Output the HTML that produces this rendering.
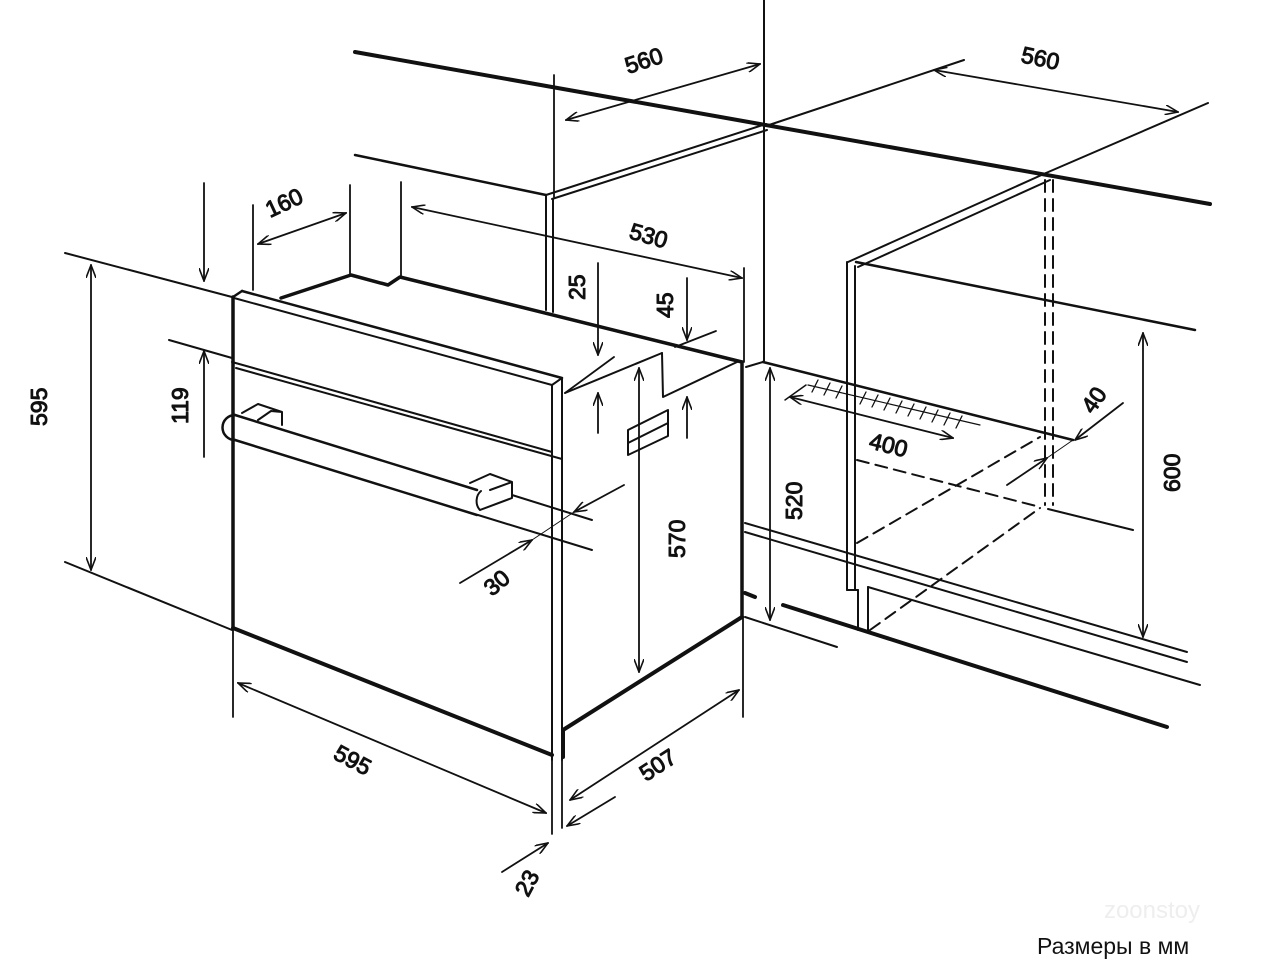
<!DOCTYPE html>
<html><head><meta charset="utf-8"><style>
html,body{margin:0;padding:0;background:#fff;}
svg{display:block;}
text{font-family:"Liberation Sans",sans-serif;font-size:23px;fill:#111;}
</style></head><body>
<svg width="1280" height="960" viewBox="0 0 1280 960" xmlns="http://www.w3.org/2000/svg">
<defs>
<marker id="a" viewBox="0 0 14 10" refX="13" refY="5" markerWidth="14" markerHeight="10" markerUnits="userSpaceOnUse" orient="auto-start-reverse">
<path d="M0,0 L13,5 L0,10" fill="none" stroke="#111" stroke-width="1.6"/>
</marker>
</defs>
<g stroke="#111" fill="none" stroke-linecap="round" stroke-linejoin="round">
<line x1="355" y1="52" x2="1210" y2="204" stroke-width="4"/>
<line x1="764" y1="0" x2="764" y2="362" stroke-width="2"/>
<line x1="355" y1="155" x2="546" y2="195" stroke-width="2.5"/>
<line x1="546" y1="195" x2="766" y2="124" stroke-width="2"/>
<line x1="552" y1="199" x2="767" y2="130" stroke-width="2"/>
<line x1="546" y1="195" x2="546" y2="310" stroke-width="2"/>
<line x1="553" y1="199" x2="553" y2="312" stroke-width="2"/>
<line x1="554" y1="75" x2="554" y2="197" stroke-width="1.8"/>
<line x1="566" y1="120" x2="760" y2="64" stroke-width="1.8" marker-start="url(#a)" marker-end="url(#a)"/>
<text transform="translate(628,74) rotate(-18)">560</text>
<line x1="766" y1="126" x2="964" y2="60" stroke-width="2"/>
<line x1="1046" y1="173" x2="1208" y2="103" stroke-width="2"/>
<line x1="934" y1="70" x2="1178" y2="112" stroke-width="1.8" marker-start="url(#a)" marker-end="url(#a)"/>
<text transform="translate(1020,62) rotate(12)">560</text>
<line x1="1046" y1="173" x2="848" y2="262" stroke-width="2"/>
<line x1="1050" y1="180" x2="858" y2="267" stroke-width="2"/>
<line x1="856" y1="262" x2="1195" y2="330" stroke-width="2.5"/>
<line x1="847" y1="262" x2="847" y2="590" stroke-width="2"/>
<line x1="855" y1="266" x2="855" y2="590" stroke-width="2"/>
<line x1="847" y1="590" x2="858" y2="590" stroke-width="2"/>
<line x1="858" y1="590" x2="858" y2="630" stroke-width="2"/>
<line x1="868" y1="587" x2="868" y2="632" stroke-width="2"/>
<line x1="1045" y1="180" x2="1045" y2="505" stroke-width="2" stroke-dasharray="12,7"/>
<line x1="1053" y1="180" x2="1053" y2="505" stroke-width="2" stroke-dasharray="12,7"/>
<line x1="1143" y1="333" x2="1143" y2="637" stroke-width="1.8" marker-start="url(#a)" marker-end="url(#a)"/>
<text transform="translate(1180,492) rotate(-90)">600</text>
<line x1="746" y1="367" x2="763" y2="362" stroke-width="2"/>
<line x1="763" y1="362" x2="1073" y2="440" stroke-width="2.5"/>
<path d="M808,385 L980,425" stroke-width="1.2"/>
<g stroke-width="1.3">
<line x1="818" y1="380" x2="812" y2="392"/><line x1="830" y1="383" x2="824" y2="395"/>
<line x1="842" y1="386" x2="836" y2="398"/><line x1="866" y1="392" x2="860" y2="404"/>
<line x1="878" y1="395" x2="872" y2="407"/><line x1="890" y1="398" x2="884" y2="410"/>
<line x1="902" y1="401" x2="896" y2="413"/><line x1="914" y1="404" x2="908" y2="416"/>
<line x1="926" y1="407" x2="920" y2="419"/><line x1="938" y1="410" x2="932" y2="422"/>
<line x1="950" y1="413" x2="944" y2="425"/><line x1="962" y1="416" x2="956" y2="428"/>
</g>
<line x1="785" y1="400" x2="806" y2="385" stroke-width="1.5"/>
<line x1="790" y1="397" x2="953" y2="438" stroke-width="1.8" marker-start="url(#a)" marker-end="url(#a)"/>
<text transform="translate(868,448) rotate(14)">400</text>
<line x1="1123" y1="403" x2="1075" y2="440" stroke-width="1.8" marker-end="url(#a)"/>
<line x1="1007" y1="485" x2="1047" y2="458" stroke-width="1.8" marker-end="url(#a)"/>
<line x1="1073" y1="440" x2="1047" y2="458" stroke-width="1"/>
<text transform="translate(1093,415) rotate(-55)">40</text>
<line x1="857" y1="460" x2="1040" y2="507" stroke-width="2" stroke-dasharray="12,7"/>
<line x1="1048" y1="509" x2="1133" y2="530" stroke-width="2"/>
<line x1="857" y1="543" x2="1040" y2="437" stroke-width="2" stroke-dasharray="12,7"/>
<line x1="870" y1="630" x2="1040" y2="508" stroke-width="2" stroke-dasharray="12,7"/>
<line x1="770" y1="368" x2="770" y2="620" stroke-width="1.8" marker-start="url(#a)" marker-end="url(#a)"/>
<text transform="translate(802,520) rotate(-90)">520</text>
<line x1="745" y1="523" x2="1187" y2="652" stroke-width="2"/>
<line x1="745" y1="532" x2="1187" y2="662" stroke-width="2"/>
<line x1="868" y1="587" x2="1200" y2="685" stroke-width="2"/>
<line x1="783" y1="605" x2="1167" y2="727" stroke-width="4"/>
<line x1="745" y1="593" x2="755" y2="597" stroke-width="4"/>
<line x1="745" y1="617" x2="837" y2="647" stroke-width="2"/>
<line x1="233" y1="297" x2="233" y2="628" stroke-width="3.5"/>
<line x1="233" y1="297" x2="242" y2="291" stroke-width="2.5"/>
<line x1="242" y1="291" x2="562" y2="378" stroke-width="2.5"/>
<line x1="234" y1="298" x2="552" y2="385" stroke-width="2"/>
<path d="M281,298 L351,275 L388,285 L400,277 L742,362" stroke-width="3.5"/>
<line x1="552" y1="385" x2="552" y2="760" stroke-width="2"/>
<line x1="562" y1="378" x2="562" y2="760" stroke-width="2"/>
<line x1="552" y1="385" x2="562" y2="378" stroke-width="2"/>
<line x1="565" y1="393" x2="662" y2="353" stroke-width="2"/>
<path d="M662,353 L663,397 L737,362" stroke-width="2"/>
<line x1="742" y1="362" x2="742" y2="617" stroke-width="3.5"/>
<path d="M233,628 L552,755" stroke-width="4"/>
<path d="M742,617 L563,730 L563,757" stroke-width="4"/>
<line x1="232" y1="362" x2="552" y2="452" stroke-width="2"/>
<line x1="236" y1="368" x2="562" y2="459" stroke-width="2"/>
<path d="M628,430 L668,410 L668,436 L628,455 Z M628,443 L668,423" stroke-width="2"/>
<path d="M235,415 L477,490" stroke-width="2.5"/>
<path d="M235,440 L477,515" stroke-width="2.5"/>
<path d="M235,415 A12.5,12.5 0 0 0 235,440" stroke-width="2.5"/>
<path d="M242,413 L258,404 L282,412 L282,425 M258,420 L271,411 L282,412" stroke-width="2"/>
<path d="M470,483 L490,474 L512,482 L512,498 L480,510 M490,490 L512,482 M481,491 A10,12 0 0 0 480,510" stroke-width="2"/>
<line x1="512" y1="495" x2="592" y2="520" stroke-width="2"/>
<line x1="478" y1="515" x2="592" y2="550" stroke-width="2"/>
<line x1="624" y1="485" x2="574" y2="512" stroke-width="1.8" marker-end="url(#a)"/>
<line x1="460" y1="583" x2="532" y2="540" stroke-width="1.8" marker-end="url(#a)"/>
<line x1="532" y1="540" x2="574" y2="512" stroke-width="1"/>
<text transform="translate(492,597) rotate(-40)">30</text>
<line x1="65" y1="253" x2="232" y2="297" stroke-width="2"/>
<line x1="65" y1="562" x2="232" y2="630" stroke-width="2"/>
<line x1="91" y1="265" x2="91" y2="570" stroke-width="1.8" marker-start="url(#a)" marker-end="url(#a)"/>
<text transform="translate(47,426) rotate(-90)">595</text>
<line x1="204" y1="183" x2="204" y2="281" stroke-width="1.8" marker-end="url(#a)"/>
<line x1="204" y1="457" x2="204" y2="351" stroke-width="1.8" marker-end="url(#a)"/>
<line x1="169" y1="340" x2="232" y2="358" stroke-width="2"/>
<text transform="translate(188,424) rotate(-90)">119</text>
<line x1="253" y1="205" x2="253" y2="290" stroke-width="1.8"/>
<line x1="350" y1="185" x2="350" y2="275" stroke-width="1.8"/>
<line x1="258" y1="244" x2="346" y2="213" stroke-width="1.8" marker-start="url(#a)" marker-end="url(#a)"/>
<text transform="translate(270,218) rotate(-25)">160</text>
<line x1="401" y1="182" x2="401" y2="277" stroke-width="1.8"/>
<line x1="744" y1="268" x2="744" y2="362" stroke-width="1.8"/>
<line x1="412" y1="207" x2="742" y2="278" stroke-width="1.8" marker-start="url(#a)" marker-end="url(#a)"/>
<text transform="translate(628,238) rotate(16)">530</text>
<line x1="598" y1="263" x2="598" y2="355" stroke-width="1.8" marker-end="url(#a)"/>
<line x1="598" y1="433" x2="598" y2="393" stroke-width="1.8" marker-end="url(#a)"/>
<line x1="565" y1="393" x2="614" y2="357" stroke-width="1.8"/>
<text transform="translate(585,300) rotate(-90)">25</text>
<line x1="687" y1="278" x2="687" y2="340" stroke-width="1.8" marker-end="url(#a)"/>
<line x1="687" y1="438" x2="687" y2="397" stroke-width="1.8" marker-end="url(#a)"/>
<line x1="675" y1="347" x2="716" y2="331" stroke-width="1.8"/>
<text transform="translate(673,318) rotate(-90)">45</text>
<line x1="639" y1="368" x2="639" y2="672" stroke-width="1.8" marker-start="url(#a)" marker-end="url(#a)"/>
<text transform="translate(685,558) rotate(-90)">570</text>
<line x1="233" y1="630" x2="233" y2="717" stroke-width="1.8"/>
<line x1="743" y1="617" x2="743" y2="717" stroke-width="1.8"/>
<line x1="552" y1="757" x2="552" y2="834" stroke-width="1.8"/>
<line x1="562" y1="757" x2="562" y2="828" stroke-width="1.8"/>
<line x1="238" y1="683" x2="546" y2="813" stroke-width="1.8" marker-start="url(#a)" marker-end="url(#a)"/>
<text transform="translate(332,758) rotate(28)">595</text>
<line x1="570" y1="800" x2="739" y2="690" stroke-width="1.8" marker-start="url(#a)" marker-end="url(#a)"/>
<text transform="translate(646,782) rotate(-33)">507</text>
<line x1="615" y1="797" x2="567" y2="826" stroke-width="1.8" marker-end="url(#a)"/>
<line x1="502" y1="872" x2="548" y2="843" stroke-width="1.8" marker-end="url(#a)"/>
<text transform="translate(528,898) rotate(-62)">23</text>
</g>
<text x="1200" y="918" text-anchor="end" style="fill:#eee;font-size:24px">zoonstoy</text>
<text x="1037" y="954" style="font-size:23px">Размеры в мм</text>
</svg>
</body></html>
